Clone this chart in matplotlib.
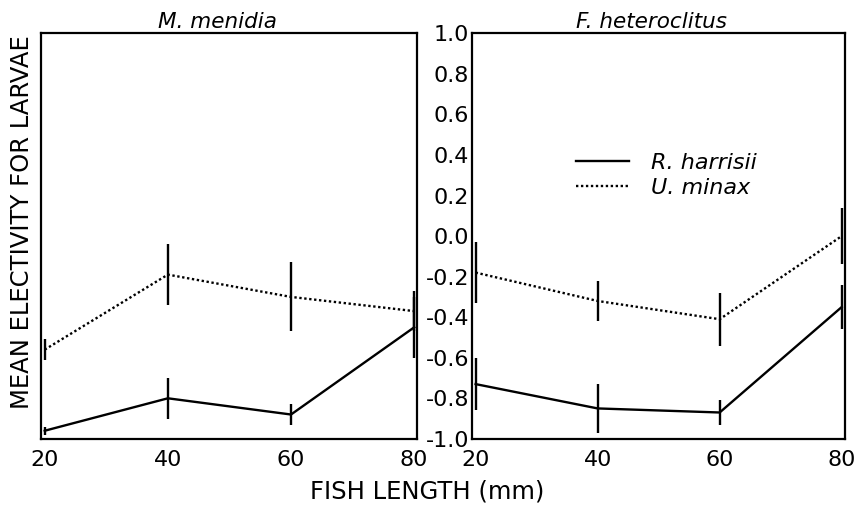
"""
Mean electivity for crab larvae vs fish length, two fish species.
"""

import matplotlib
matplotlib.use("Agg")
import matplotlib.pyplot as plt
from matplotlib.lines import Line2D

lengths = [20, 40, 60, 80]

# M. menidia panel
men_harrisii = [-0.96, -0.80, -0.88, -0.45]
men_harrisii_err = [0.02, 0.10, 0.05, 0.15]
men_minax = [-0.56, -0.19, -0.30, -0.37]
men_minax_err = [0.05, 0.15, 0.17, 0.10]

# F. heteroclitus panel
het_harrisii = [-0.73, -0.85, -0.87, -0.35]
het_harrisii_err = [0.13, 0.12, 0.06, 0.11]
het_minax = [-0.18, -0.32, -0.41, 0.0]
het_minax_err = [0.15, 0.10, 0.13, 0.14]

yticks = [-1.0, -0.8, -0.6, -0.4, -0.2, 0.0, 0.2, 0.4, 0.6, 0.8, 1.0]
xticks = [20, 40, 60, 80]

plt.rcParams.update({
    "font.family": "DejaVu Sans",
    "axes.unicode_minus": False,
    "axes.linewidth": 1.6,
})

DOT = (0, (1, 1.1))


def draw_panel(ax, harr, harr_err, minax, minax_err, title, title_x):
    ax.errorbar(lengths, harr, yerr=harr_err, color="black", lw=1.7,
                elinewidth=1.7, capsize=0, ls="-")
    ax.errorbar(lengths, minax, yerr=minax_err, color="black", lw=1.7,
                elinewidth=1.7, capsize=0, ls=DOT)
    ax.set_xlim(19.4, 80.5)
    ax.set_ylim(-1.0, 1.0)
    ax.set_xticks(xticks)
    ax.set_xticklabels([str(v) for v in xticks])
    ax.tick_params(axis="x", length=0, pad=8, labelsize=16)
    ax.set_title(title, fontsize=15.5, style="italic", pad=4, x=title_x)


fig = plt.figure(figsize=(8.55, 5.05), dpi=100)
ax1 = fig.add_axes([0.048, 0.131, 0.440, 0.803])
ax2 = fig.add_axes([0.552, 0.131, 0.436, 0.803])

draw_panel(ax1, men_harrisii, men_harrisii_err, men_minax, men_minax_err,
           "M. menidia", 0.47)
ax1.set_yticks([])

draw_panel(ax2, het_harrisii, het_harrisii_err, het_minax, het_minax_err,
           "F. heteroclitus", 0.482)
ax2.set_yticks(yticks)
ax2.set_yticklabels([f"{v:.1f}" for v in yticks])
ax2.tick_params(axis="y", length=0, pad=2, labelsize=16)

handles = [Line2D([], [], color="black", lw=1.7, ls="-"),
           Line2D([], [], color="black", lw=1.7, ls=DOT)]
ax2.legend(handles, ["R. harrisii", "U. minax"], loc="upper left",
           bbox_to_anchor=(0.225, 0.755), frameon=False, handlelength=2.4,
           handletextpad=1.0, labelspacing=0.25,
           prop={"size": 16, "style": "italic"})

fig.text(0.026, 0.56, "MEAN ELECTIVITY FOR LARVAE", rotation=90,
         ha="center", va="center", fontsize=17.5)
fig.text(0.5, 0.026, "FISH LENGTH (mm)", ha="center", va="center",
         fontsize=17.5)

fig.savefig("out.png", dpi=100)
